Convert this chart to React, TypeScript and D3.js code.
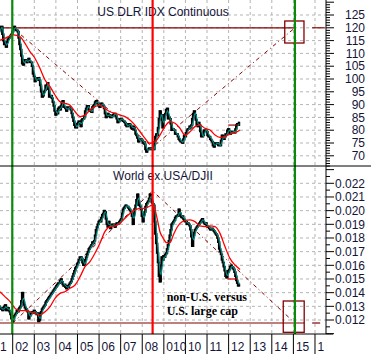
import React from "react";
import * as d3 from "d3";

// ---- data: semi-monthly closes, starting Oct 2000 ----
const startYear = 2000.75;
const stepYear = 1 / 24;

const dollarIndex = [
  117.5, 118.5, 117.0, 116.0, 112.5, 110.0,
  110.5, 111.5, 112.0, 113.0, 115.0, 117.0, 117.5, 116.5, 117.5, 119.0, 119.5, 120.5, 120.5, 117.5, 115.0, 113.5, 114.0, 112.5, 114.5, 115.5, 116.0, 116.5, 117.0, 117.5,
  118.5, 120.0, 120.5, 119.5, 119.0, 119.0, 118.5, 116.0, 113.5, 111.5, 109.0, 106.0, 105.5, 107.5, 107.5, 107.0, 106.5, 107.0, 108.0, 107.0, 106.5, 106.5, 105.0, 102.0,
  101.0, 99.0, 99.5, 99.5, 100.5, 100.5, 99.5, 97.5, 95.0, 93.0, 93.5, 95.0, 95.5, 97.5, 97.5, 98.5, 96.0, 93.0, 93.0, 93.5, 92.5, 91.0, 89.5, 87.5,
  86.0, 87.5, 86.5, 88.5, 89.0, 88.0, 89.5, 91.0, 91.5, 89.0, 89.0, 88.5, 87.5, 89.0, 88.5, 89.0, 88.5, 88.0, 86.5, 85.0, 83.5, 82.0, 81.0, 81.0,
  82.5, 83.0, 83.5, 82.5, 81.5, 84.0, 84.5, 84.5, 85.5, 87.5, 88.5, 89.5, 89.5, 88.0, 87.5, 87.5, 87.0, 89.0, 89.5, 90.0, 91.0, 91.5, 90.5, 90.5,
  89.5, 89.0, 90.0, 90.5, 90.0, 89.5, 88.5, 86.5, 85.0, 85.5, 86.5, 85.5, 86.0, 85.0, 85.0, 85.5, 86.0, 86.5, 86.5, 85.5, 84.5, 83.0, 83.5, 84.0,
  84.5, 84.5, 84.0, 83.5, 83.5, 83.0, 82.0, 81.5, 81.5, 82.5, 82.5, 82.0, 81.0, 80.5, 81.5, 81.0, 80.0, 78.5, 78.0, 77.0, 75.5, 76.0, 76.5, 76.5,
  76.0, 75.0, 75.5, 74.5, 72.5, 71.5, 72.5, 72.5, 73.0, 72.5, 73.0, 72.5, 72.5, 72.5, 75.5, 77.5, 78.5, 78.0, 81.0, 84.5, 87.5, 86.0, 84.0, 81.0,
  84.0, 86.0, 86.5, 88.0, 88.5, 84.5, 85.0, 84.5, 82.5, 80.0, 80.5, 80.0, 80.0, 78.5, 78.5, 78.5, 77.5, 76.5, 76.0, 75.5, 75.5, 75.0, 76.5, 78.0,
  77.5, 79.0, 80.0, 80.5, 80.5, 81.5, 81.0, 82.0, 84.5, 86.5, 87.5, 86.0, 84.0, 82.0, 81.5, 83.0, 82.0, 79.5, 77.5, 77.5, 78.0, 80.0, 80.0, 80.0,
  79.5, 78.0, 77.5, 77.5, 76.5, 76.0, 75.5, 74.0, 73.5, 75.0, 74.5, 75.0, 75.0, 74.0, 74.0, 74.0, 76.0, 78.0, 77.0, 76.5, 77.5, 78.5, 78.5, 80.0,
  80.5, 79.5, 78.5, 79.0, 79.5, 79.5, 79.5, 79.0, 80.5, 82.0, 82.5, 82.0, 83.0,
];

const worldRatio = [
  0.0150, 0.0149, 0.0147, 0.0146, 0.0147, 0.0145,
  0.0144, 0.0143, 0.0141, 0.0139, 0.0136, 0.0134, 0.0135, 0.0133, 0.0131, 0.0130, 0.0129, 0.0128, 0.0129, 0.0127, 0.0128, 0.0130, 0.0131, 0.0127, 0.0128, 0.0129, 0.0127, 0.0126, 0.0124, 0.0121,
  0.0119, 0.0121, 0.0123, 0.0124, 0.0125, 0.0127, 0.0126, 0.0128, 0.0129, 0.0130, 0.0134, 0.0140, 0.0133, 0.0131, 0.0129, 0.0128, 0.0127, 0.0126, 0.0121, 0.0123, 0.0124, 0.0125, 0.0126, 0.0125,
  0.0127, 0.0126, 0.0125, 0.0124, 0.0125, 0.0119, 0.0120, 0.0125, 0.0126, 0.0128, 0.0129, 0.0130, 0.0131, 0.0133, 0.0134, 0.0135, 0.0136, 0.0137, 0.0138, 0.0139, 0.0140, 0.0141, 0.0142, 0.0143,
  0.0144, 0.0145, 0.0146, 0.0147, 0.0147, 0.0149, 0.0150, 0.0148, 0.0146, 0.0145, 0.0146, 0.0144, 0.0143, 0.0145, 0.0144, 0.0146, 0.0147, 0.0148, 0.0150, 0.0152, 0.0154, 0.0156, 0.0158, 0.0159,
  0.0161, 0.0162, 0.0164, 0.0166, 0.0166, 0.0165, 0.0162, 0.0160, 0.0161, 0.0164, 0.0166, 0.0168, 0.0170, 0.0172, 0.0173, 0.0174, 0.0175, 0.0177, 0.0176, 0.0178, 0.0182, 0.0186, 0.0188, 0.0190,
  0.0192, 0.0193, 0.0192, 0.0195, 0.0197, 0.0198, 0.0200, 0.0199, 0.0194, 0.0190, 0.0188, 0.0192, 0.0189, 0.0187, 0.0189, 0.0190, 0.0190, 0.0189, 0.0188, 0.0190, 0.0191, 0.0190, 0.0191, 0.0192,
  0.0193, 0.0194, 0.0198, 0.0201, 0.0202, 0.0203, 0.0204, 0.0203, 0.0203, 0.0202, 0.0201, 0.0200, 0.0199, 0.0196, 0.0190, 0.0198, 0.0201, 0.0204, 0.0208, 0.0212, 0.0207, 0.0204, 0.0203, 0.0201,
  0.0196, 0.0192, 0.0197, 0.0199, 0.0203, 0.0205, 0.0206, 0.0207, 0.0209, 0.0212, 0.0210, 0.0206, 0.0205, 0.0204, 0.0192, 0.0183, 0.0176, 0.0169, 0.0162, 0.0152, 0.0148, 0.0160, 0.0166, 0.0164,
  0.0167, 0.0166, 0.0168, 0.0169, 0.0172, 0.0175, 0.0178, 0.0182, 0.0186, 0.0190, 0.0191, 0.0192, 0.0193, 0.0195, 0.0196, 0.0196, 0.0197, 0.0201, 0.0198, 0.0196, 0.0195, 0.0196, 0.0194, 0.0193,
  0.0192, 0.0192, 0.0190, 0.0191, 0.0190, 0.0189, 0.0186, 0.0181, 0.0174, 0.0182, 0.0184, 0.0186, 0.0187, 0.0188, 0.0189, 0.0190, 0.0191, 0.0192, 0.0193, 0.0194, 0.0192, 0.0191, 0.0190, 0.0191,
  0.0189, 0.0188, 0.0188, 0.0187, 0.0186, 0.0187, 0.0187, 0.0186, 0.0185, 0.0184, 0.0183, 0.0182, 0.0180, 0.0177, 0.0172, 0.0170, 0.0168, 0.0164, 0.0162, 0.0159, 0.0156, 0.0152, 0.0151, 0.0155,
  0.0156, 0.0157, 0.0159, 0.0160, 0.0159, 0.0158, 0.0157, 0.0155, 0.0152, 0.0149, 0.0147, 0.0145, 0.0146,
];

// slower (red) average lines
const dollarRedYears = [2001.41, 2001.64, 2002.03, 2002.34, 2002.57, 2002.8, 2003.03, 2003.26, 2003.5, 2003.73, 2003.96, 2004.19, 2004.42, 2004.65, 2004.89, 2005.12, 2005.35, 2005.58, 2005.81, 2006.04, 2006.27, 2006.51, 2006.74, 2006.97, 2007.2, 2007.43, 2007.66, 2007.9, 2008.13, 2008.36, 2008.59, 2008.82, 2009.05, 2009.28, 2009.52, 2009.75, 2009.98, 2010.21, 2010.44, 2010.67, 2010.91, 2011.14, 2011.37, 2011.6, 2011.83, 2012.06, 2012.3, 2012.53];
const dollarRedValues = [115.2, 115.9, 117.2, 116.5, 113.9, 110.7, 108.1, 104.2, 99.6, 97.0, 93.75, 91.1, 90.5, 89.8, 87.2, 85.3, 85.9, 87.9, 89.2, 89.8, 88.5, 87.2, 86.6, 85.9, 85.3, 84.0, 82.0, 79.4, 76.8, 74.9, 75.5, 78.1, 81.4, 83.3, 82.7, 80.7, 78.1, 79.4, 81.4, 82.0, 80.7, 80.1, 78.1, 77.2, 77.5, 78.5, 79.0, 80.1];

const ratioRedYears = [2001.41, 2001.64, 2001.88, 2002.11, 2002.34, 2002.57, 2002.8, 2003.03, 2003.26, 2003.5, 2003.73, 2003.96, 2004.19, 2004.42, 2004.65, 2004.89, 2005.12, 2005.35, 2005.58, 2005.81, 2006.04, 2006.27, 2006.51, 2006.74, 2006.97, 2007.2, 2007.43, 2007.66, 2007.9, 2008.13, 2008.36, 2008.51, 2008.67, 2008.82, 2008.97, 2009.13, 2009.28, 2009.44, 2009.59, 2009.75, 2009.98, 2010.21, 2010.44, 2010.67, 2010.91, 2011.14, 2011.37, 2011.6, 2011.83, 2012.06, 2012.3, 2012.53];
const ratioRedValues = [0.01407, 0.01371, 0.01334, 0.01285, 0.01268, 0.01268, 0.01261, 0.01249, 0.01237, 0.01261, 0.01298, 0.01359, 0.01395, 0.01407, 0.01432, 0.01456, 0.01517, 0.0159, 0.01627, 0.01688, 0.01761, 0.01846, 0.01883, 0.01888, 0.01907, 0.01944, 0.0198, 0.02005, 0.02017, 0.02017, 0.02034, 0.02041, 0.01956, 0.01846, 0.01798, 0.01766, 0.01766, 0.01822, 0.01871, 0.01907, 0.01927, 0.01932, 0.0192, 0.01888, 0.01883, 0.01888, 0.01883, 0.01834, 0.01737, 0.01651, 0.01602, 0.0157];

// annotations
const vYears = [2002.0, 2008.48, 2015.07];
const dollarV = [120, 73.4, 120];
const ratioV = [0.01178, 0.02144, 0.01178];
const greenYears = [2001.98, 2015.07];
const redYear = 2008.48;
const dollarLevel = 120;
const ratioLevel = 0.01178;
const dollarBox = { years: [2014.6, 2015.49], values: [114.06, 122.66] };
const ratioBox = { years: [2014.53, 2015.5], values: [0.0111, 0.01339] };
const dollarMark = { years: [2011.98, 2012.45], value: 82.0 };
const ratioMark = { years: [2011.94, 2012.42], value: 0.0150 };

// axes
const xTickYears = [2001, 2002, 2003, 2004, 2005, 2006, 2007, 2008, 2009, 2010, 2011, 2012, 2013, 2014, 2015, 2016];
const xTickLabels = ["1", "02", "03", "04", "05", "06", "07", "08", "010", "10", "11", "12", "13", "14", "15", "1"];
const dollarTicks = [70, 75, 80, 85, 90, 95, 100, 105, 110, 115, 120, 125];
const ratioTicks = [0.012, 0.013, 0.014, 0.015, 0.016, 0.017, 0.018, 0.019, 0.02, 0.021, 0.022];
const ratioTickLabels = ["0.012", "0.013", "0.014", "0.015", "0.016", "0.017", "0.018", "0.019", "0.020", "0.021", "0.022"];

const W = 371;
const H = 354;
const PR = 326; // plot right edge
const TEAL = "#00877d";
const BROWN = "#800000";
const TXT = "#141438";
const FONT = "'Liberation Sans', Arial, sans-serif";

export default function App() {
  const x = d3.scaleLinear().domain([2001.412, 2016.51]).range([0, PR]);
  const yTop = d3.scaleLinear().domain([66.02, 130.86]).range([166, 0]);
  const yBot = d3.scaleLinear().domain([0.010976, 0.023266]).range([334, 166]);
  const dates = dollarIndex.map((_, i) => startYear + i * stepYear);

  const bars = (vals: number[], y: d3.ScaleLinear<number, number>) =>
    vals.map((v, i) => {
      const a = vals[Math.max(0, i - 1)];
      const b = vals[Math.min(vals.length - 1, i + 1)];
      const lo = Math.min(a, v, b);
      const hi = Math.max(a, v, b);
      const xx = x(dates[i]);
      return <line key={i} x1={xx} x2={xx} y1={y(lo) + 0.8} y2={y(hi) - 0.8} stroke="#000" strokeWidth={1.6} />;
    });

  const sma = (vals: number[], n: number) =>
    vals.map((_, i) => (i < n - 1 ? null : d3.mean(vals.slice(i - n + 1, i + 1)) as number));

  const linePath = (xs: number[], ys: (number | null)[], y: d3.ScaleLinear<number, number>, curve = d3.curveLinear) =>
    d3
      .line<number>()
      .defined((i) => ys[i] != null)
      .x((i) => x(xs[i]))
      .y((i) => y(ys[i] as number))
      .curve(curve)(d3.range(xs.length)) || "";

  const tealTop = sma(dollarIndex, 3);
  const tealBot = sma(worldRatio, 3);

  const topMinor = d3.range(66, 131, 1);
  const botMinor = d3.range(0, 25).map((k) => 0.011 + k * 0.0005);

  const gridX = xTickYears.filter((yr) => x(yr) > 0 && x(yr) < PR);
  const serif = "'Liberation Serif', 'Times New Roman', serif";

  return (
    <svg width={W} height={H} style={{ position: "absolute", left: 0, top: 0, background: "#fff" }} fontFamily={FONT}>
      <defs>
        <clipPath id="cTop"><rect x={0} y={0} width={PR} height={166} /></clipPath>
        <clipPath id="cBot"><rect x={0} y={166} width={PR} height={168} /></clipPath>
      </defs>
      <rect width={W} height={H} fill="#fff" />

      {/* grids */}
      <g stroke="#b4b4b4" strokeWidth={1} strokeDasharray="3,3">
        {gridX.map((yr) => (
          <line key={"gx" + yr} x1={x(yr)} x2={x(yr)} y1={0} y2={334} />
        ))}
        {dollarTicks.map((v) => (
          <line key={"gt" + v} x1={0} x2={PR} y1={yTop(v)} y2={yTop(v)} />
        ))}
        {ratioTicks.map((v) => (
          <line key={"gb" + v} x1={0} x2={PR} y1={yBot(v)} y2={yBot(v)} />
        ))}
      </g>

      {/* titles */}
      <text x={163} y={16} textAnchor="middle" fontSize={12} fill={TXT}>US DLR IDX Continuous</text>
      <text x={163} y={180} textAnchor="middle" fontSize={12} fill={TXT}>World ex.USA/DJII</text>

      {/* top panel */}
      <g clipPath="url(#cTop)">
        <line x1={x(2001.41)} x2={x(2015.07)} y1={yTop(dollarLevel)} y2={yTop(dollarLevel)} stroke={BROWN} strokeWidth={1.2} />
        <line x1={x(2015.87)} x2={x(2016.45)} y1={yTop(dollarLevel)} y2={yTop(dollarLevel)} stroke={BROWN} strokeWidth={1.2} />
        <path d={linePath(vYears, dollarV, yTop)} fill="none" stroke="#8b0000" strokeWidth={1} strokeDasharray="4,3,1,3" />
        {bars(dollarIndex, yTop)}
        <path d={linePath(dates, tealTop, yTop)} fill="none" stroke={TEAL} strokeWidth={1.2} />
        <path d={linePath(dollarRedYears, dollarRedValues, yTop, d3.curveMonotoneX)} fill="none" stroke="#ff0000" strokeWidth={1.3} />
        <line x1={x(dollarMark.years[0])} x2={x(dollarMark.years[1])} y1={yTop(dollarMark.value)} y2={yTop(dollarMark.value)} stroke="#990000" strokeWidth={1.2} />
        <rect x={x(dollarBox.years[0])} y={yTop(dollarBox.values[1])} width={x(dollarBox.years[1]) - x(dollarBox.years[0])} height={yTop(dollarBox.values[0]) - yTop(dollarBox.values[1])} fill="none" stroke={BROWN} strokeWidth={1.3} />
      </g>

      {/* bottom panel */}
      <g clipPath="url(#cBot)">
        <line x1={x(2001.41)} x2={x(2015.5)} y1={yBot(ratioLevel)} y2={yBot(ratioLevel)} stroke={BROWN} strokeWidth={1.2} />
        <line x1={x(2015.87)} x2={x(2016.24)} y1={yBot(ratioLevel)} y2={yBot(ratioLevel)} stroke={BROWN} strokeWidth={1.2} />
        <path d={linePath(vYears, ratioV, yBot)} fill="none" stroke="#8b0000" strokeWidth={1} strokeDasharray="4,3,1,3" />
        {bars(worldRatio, yBot)}
        <path d={linePath(dates, tealBot, yBot)} fill="none" stroke={TEAL} strokeWidth={1.2} />
        <path d={linePath(ratioRedYears, ratioRedValues, yBot, d3.curveMonotoneX)} fill="none" stroke="#ff0000" strokeWidth={1.3} />
        <line x1={x(ratioMark.years[0])} x2={x(ratioMark.years[1])} y1={yBot(ratioMark.value)} y2={yBot(ratioMark.value)} stroke="#cc0000" strokeWidth={1.2} />
        <rect x={x(ratioBox.years[0])} y={yBot(ratioBox.values[1])} width={x(ratioBox.years[1]) - x(ratioBox.years[0])} height={yBot(ratioBox.values[0]) - yBot(ratioBox.values[1])} fill="none" stroke={BROWN} strokeWidth={1.3} />
      </g>

      {/* vertical markers */}
      {greenYears.map((yr) => (
        <line key={"g" + yr} x1={x(yr)} x2={x(yr)} y1={0} y2={334} stroke="#0a8a0a" strokeWidth={2.2} />
      ))}
      <line x1={x(redYear)} x2={x(redYear)} y1={0} y2={334} stroke="#ff0000" strokeWidth={2.2} />

      {/* annotation text */}
      <text x={166.7} y={300.5} fontSize={12} fontWeight="bold" fontFamily={serif} fill="#000">non-U.S. versus</text>
      <text x={166.7} y={315} fontSize={12} fontWeight="bold" fontFamily={serif} fill="#000">U.S. large cap</text>

      {/* frame lines */}
      <line x1={0} x2={W} y1={166} y2={166} stroke="#000" strokeWidth={1} />
      <line x1={0} x2={333} y1={334} y2={334} stroke="#000" strokeWidth={1} />
      <line x1={PR} x2={PR} y1={0} y2={334} stroke="#000" strokeWidth={1} />

      {/* right axis ticks */}
      <g stroke="#000" strokeWidth={1}>
        {topMinor.map((v) => (
          <line key={"tt" + v} x1={PR} x2={PR + (v % 5 === 0 ? 8 : 4)} y1={yTop(v)} y2={yTop(v)} />
        ))}
        {botMinor.map((v, k) => (
          <line key={"bt" + k} x1={PR} x2={PR + (k % 2 === 0 ? 8 : 4)} y1={yBot(v)} y2={yBot(v)} />
        ))}
      </g>
      <g fontSize={12} fill={TXT} textAnchor="end">
        {dollarTicks.map((v) => (
          <text key={"tl" + v} x={365} y={yTop(v)} dy="0.35em">{v}</text>
        ))}
        {ratioTicks.map((v, i) => (
          <text key={"bl" + v} x={365} y={yBot(v)} dy="0.35em">{ratioTickLabels[i]}</text>
        ))}
      </g>

      {/* x axis */}
      <g stroke="#000" strokeWidth={1}>
        {gridX.map((yr) => (
          <line key={"xt" + yr} x1={x(yr)} x2={x(yr)} y1={334} y2={354} />
        ))}
      </g>
      <g fontSize={12} fill={TXT}>
        {xTickYears.map((yr, i) => (
          <text key={"xl" + yr} x={Math.max(0, x(yr) + 2.5)} y={350.5}>{xTickLabels[i]}</text>
        ))}
      </g>
    </svg>
  );
}
